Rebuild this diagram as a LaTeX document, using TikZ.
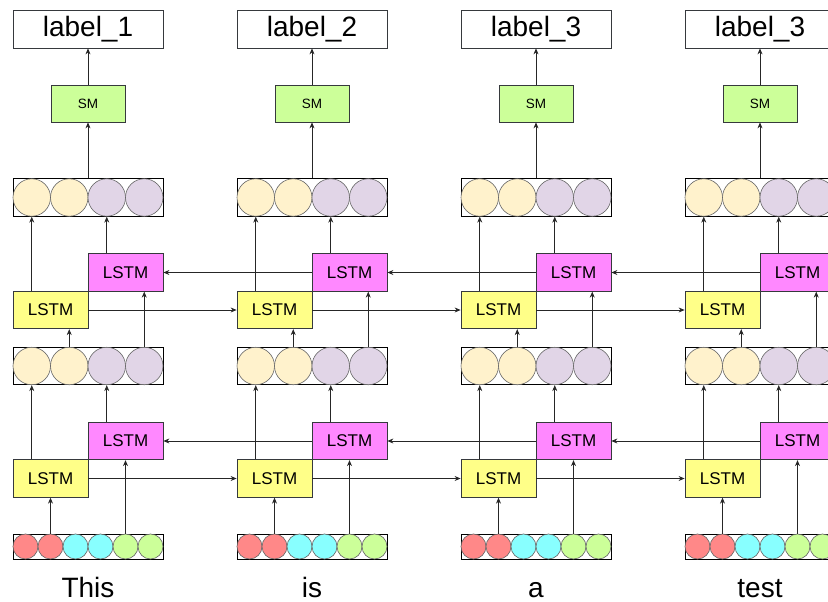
\documentclass[tikz,border=0pt]{standalone}
\usepackage{fontspec}
\setmainfont{Liberation Sans}
\usetikzlibrary{arrows.meta}
\definecolor{lstmY}{HTML}{FFFF88}
\definecolor{lstmM}{HTML}{FF88FF}
\definecolor{smG}{HTML}{CCFF99}
\definecolor{peach}{HTML}{FFF2CC}
\definecolor{lilac}{HTML}{E1D5E7}
\definecolor{embR}{HTML}{FF8888}
\definecolor{embC}{HTML}{88FFFF}
\definecolor{embG}{HTML}{CCFF99}
\definecolor{edge}{HTML}{36393D}
\begin{document}
\begin{tikzpicture}[x=1pt,y=-1pt,
  box/.style={draw=edge,line width=0.8pt,inner sep=0pt},
  lstmbox/.style={box,minimum width=75pt,minimum height=37.5pt,font=\fontsize{17}{17}\selectfont},
  smbox/.style={box,fill=smG,minimum width=74pt,minimum height=37pt,font=\fontsize{13.5}{14}\selectfont},
  labbox/.style={box,fill=white,minimum width=150pt,minimum height=38pt,font=\fontsize{28}{28}\selectfont,text height=20pt,text depth=5pt},
  rowbox/.style={draw=black,line width=0.8pt,inner sep=0pt,minimum width=150pt},
  bigc/.style={circle,draw=black!60,line width=0.6pt,minimum size=37.5pt,inner sep=0pt},
  smallc/.style={circle,draw=black!60,line width=0.6pt,minimum size=25pt,inner sep=0pt},
  arr/.style={-{Stealth[length=6pt,width=5pt]},draw=black!85,line width=0.7pt},
  wordtxt/.style={font=\fontsize{28}{28}\selectfont,anchor=base,inner sep=0pt}]
\useasboundingbox (0,0) rectangle (828,602);
\clip (0,0) rectangle (828,602);
\foreach \i/\lab/\word in {0/label\_1/This,1/label\_2/is,2/label\_3/a,3/label\_3/test}{
  \begin{scope}[xshift=224*\i]
    % label and softmax
    \node[labbox] (lab\i) at (88,29) {\lab};
    \node[smbox] (sm\i) at (88,103.5) {SM};
    % top row of circles
    \node[rowbox,minimum height=37.5pt] (top\i) at (88,197.5) {};
    \node[bigc,fill=peach] (t1\i) at (31.75,197.5) {};
    \node[bigc,fill=peach] (t2\i) at (69.25,197.5) {};
    \node[bigc,fill=lilac] (t3\i) at (106.75,197.5) {};
    \node[bigc,fill=lilac] (t4\i) at (144.25,197.5) {};
    % upper LSTMs
    \node[lstmbox,fill=lstmM] (mB\i) at (125.5,272.5) {LSTM};
    \node[lstmbox,fill=lstmY] (yB\i) at (50.5,310) {LSTM};
    % middle row of circles
    \node[rowbox,minimum height=37.5pt] (mid\i) at (88,366) {};
    \node[bigc,fill=peach] (m1\i) at (31.75,366) {};
    \node[bigc,fill=peach] (m2\i) at (69.25,366) {};
    \node[bigc,fill=lilac] (m3\i) at (106.75,366) {};
    \node[bigc,fill=lilac] (m4\i) at (144.25,366) {};
    % lower LSTMs
    \node[lstmbox,fill=lstmM] (mA\i) at (125.5,441) {LSTM};
    \node[lstmbox,fill=lstmY] (yA\i) at (50.5,478.5) {LSTM};
    % embedding row
    \node[rowbox,minimum height=25pt] (emb\i) at (88,546.5) {};
    \node[smallc,fill=embR] (e1\i) at (25.5,546.5) {};
    \node[smallc,fill=embR] (e2\i) at (50.5,546.5) {};
    \node[smallc,fill=embC] (e3\i) at (75.5,546.5) {};
    \node[smallc,fill=embC] (e4\i) at (100.5,546.5) {};
    \node[smallc,fill=embG] (e5\i) at (125.5,546.5) {};
    \node[smallc,fill=embG] (e6\i) at (150.5,546.5) {};
    % word
    \node[wordtxt] (w\i) at (88,597) {\word};
    % vertical connectors
    \draw[arr] (e2\i.north) -- (yA\i.south);
    \draw[arr] (e5\i.north) -- (mA\i.south);
    \draw[arr] (m1\i |- yA\i.north) -- (mid\i.south -| m1\i);
    \draw[arr] (m3\i |- mA\i.north) -- (mid\i.south -| m3\i);
    \draw[arr] (m2\i |- mid\i.north) -- (yB\i.south -| m2\i);
    \draw[arr] (m4\i |- mid\i.north) -- (mB\i.south -| m4\i);
    \draw[arr] (t1\i |- yB\i.north) -- (top\i.south -| t1\i);
    \draw[arr] (t3\i |- mB\i.north) -- (top\i.south -| t3\i);
    \draw[arr] (top\i.north) -- (sm\i.south);
    \draw[arr] (sm\i.north) -- (lab\i.south);
  \end{scope}
}
% horizontal recurrent connectors
\foreach \i [evaluate=\i as \j using int(\i+1)] in {0,1,2}{
  \draw[arr] (yA\i.east) -- (yA\j.west);
  \draw[arr] (mA\j.west) -- (mA\i.east);
  \draw[arr] (yB\i.east) -- (yB\j.west);
  \draw[arr] (mB\j.west) -- (mB\i.east);
}
\end{tikzpicture}
\end{document}
